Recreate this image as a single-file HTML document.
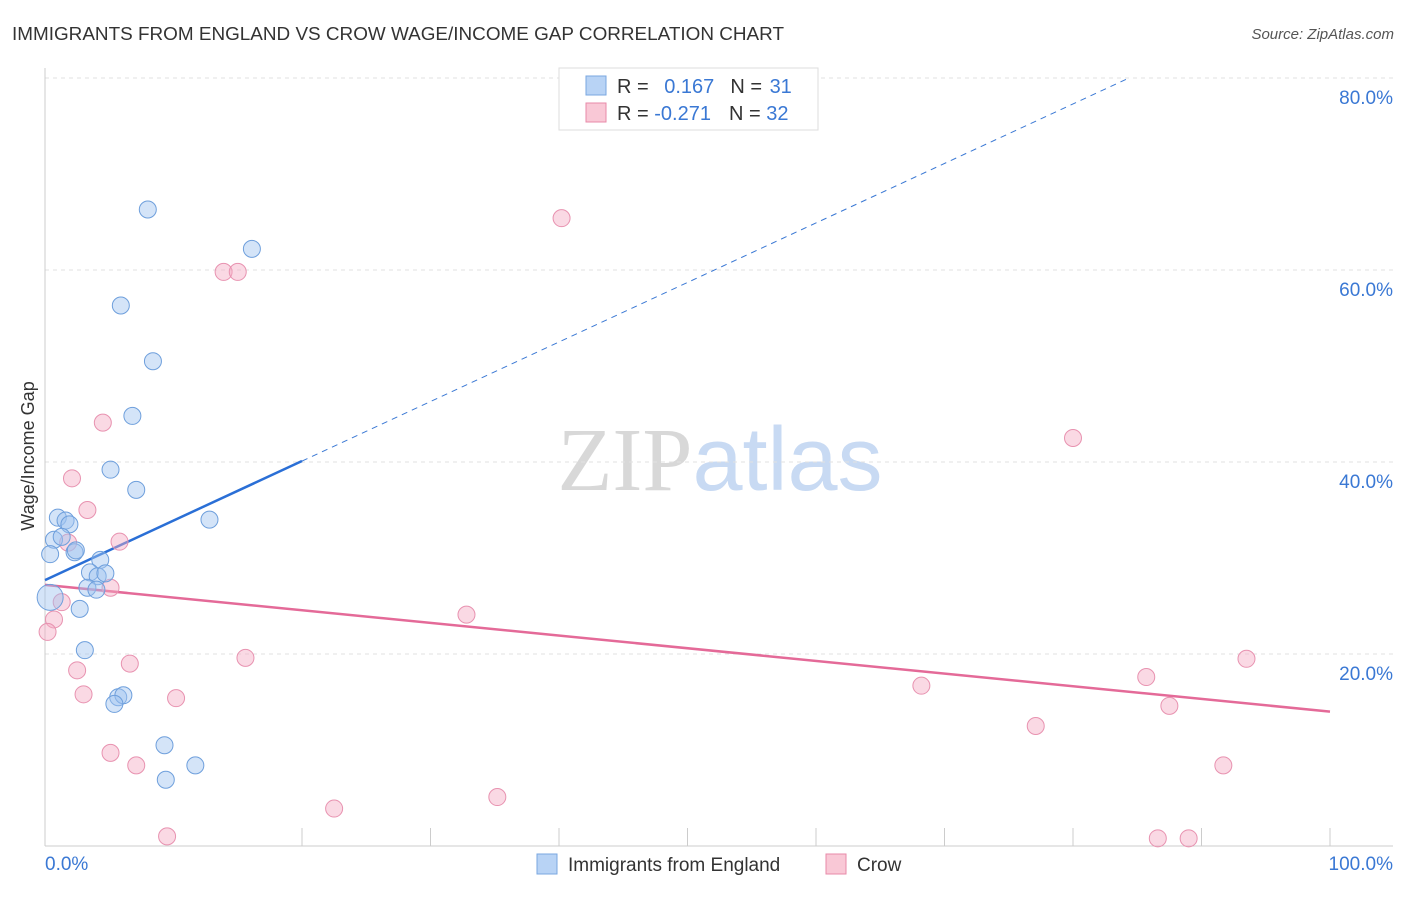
<!DOCTYPE html>
<html><head><meta charset="utf-8"><style>
body{margin:0;background:#fff;font-family:"Liberation Sans",sans-serif;}
svg text{font-family:"Liberation Sans",sans-serif;}
</style></head><body>
<svg id="chart" width="1406" height="892" xmlns="http://www.w3.org/2000/svg">
<text x="12" y="40" font-size="18" fill="#333" textLength="772" lengthAdjust="spacingAndGlyphs">IMMIGRANTS FROM ENGLAND VS CROW WAGE/INCOME GAP CORRELATION CHART</text>
<text x="1394" y="39" font-size="15" fill="#555" text-anchor="end" font-style="italic">Source: ZipAtlas.com</text>
<text x="720" y="490" font-size="90" text-anchor="middle"><tspan fill="#d8d8d8" font-family="Liberation Serif">ZIP</tspan><tspan fill="#c8daf3">atlas</tspan></text>
<text transform="translate(34,456) rotate(-90)" font-size="18" fill="#333" text-anchor="middle">Wage/Income Gap</text>
<g id="grid"></g><g id="lines"></g><g id="pts"></g>
<g>
<rect x="559" y="68" width="259" height="62" fill="#fff" stroke="#ddd"/>
<rect x="586" y="76" width="20" height="19" fill="#b8d3f5" stroke="#7aa7e0"/>
<rect x="586" y="103" width="20" height="19" fill="#f9c8d6" stroke="#e88aa8"/>
<text x="617" y="93" font-size="20" fill="#333">R = <tspan fill="#3a78d4" dx="10">0.167</tspan><tspan dx="16" fill="#333">N = </tspan><tspan fill="#3a78d4" dx="2">31</tspan></text>
<text x="617" y="120" font-size="20" fill="#333">R = <tspan fill="#3a78d4">-0.271</tspan><tspan dx="18" fill="#333">N = </tspan><tspan fill="#3a78d4">32</tspan></text>
</g>
<g>
<rect x="537" y="854" width="20" height="20" fill="#b8d3f5" stroke="#7aa7e0"/>
<text x="568" y="871" font-size="19" fill="#333">Immigrants from England</text>
<rect x="826" y="854" width="20" height="20" fill="#f9c8d6" stroke="#e88aa8"/>
<text x="857" y="871" font-size="19" fill="#333">Crow</text>
</g>
</svg>
<script>
const yTicks=[20,40,60,80];
const xTickLabels=["0.0%","100.0%"];
const blueX=[8.0,16.1,5.9,8.4,6.8,5.1,7.1,12.8,1.0,1.6,1.9,0.7,1.3,0.4,2.3,2.4,4.3,3.5,4.1,4.7,3.3,4.0,0.4,2.7,3.1,5.7,6.1,5.4,9.3,11.7,9.4];
const blueY=[66.3,62.2,56.3,50.5,44.8,39.2,37.1,34.0,34.2,33.9,33.5,31.9,32.2,30.4,30.6,30.8,29.8,28.5,28.1,28.4,26.9,26.7,25.9,24.7,20.4,15.5,15.7,14.8,10.5,8.4,6.9];
const pinkX=[40.2,13.9,15.0,4.5,80.0,2.1,3.3,5.8,1.8,5.1,1.3,0.7,0.2,32.8,6.6,15.6,2.5,3.0,10.2,68.2,85.7,93.5,87.5,77.1,5.1,7.1,91.7,22.5,35.2,9.5,86.6,89.0];
const pinkY=[65.4,59.8,59.8,44.1,42.5,38.3,35.0,31.7,31.6,26.9,25.4,23.6,22.3,24.1,19.0,19.6,18.3,15.8,15.4,16.7,17.6,19.5,14.6,12.5,9.7,8.4,8.4,3.9,5.1,1.0,0.8,0.8];
const blueTrend=[27.7,0.62];
const pinkTrend=[27.2,-0.132];
const NS="http://www.w3.org/2000/svg";
const sx=v=>45+v*12.85, sy=v=>846-v*9.6;
function mk(p,t,a){const e=document.createElementNS(NS,t);for(const k in a)e.setAttribute(k,a[k]);p.appendChild(e);return e;}
const g=document.getElementById('grid');
yTicks.forEach(t=>{
 const l=mk(g,'line',{x1:45,x2:1393,y1:sy(t),y2:sy(t),stroke:'#e2e2e2','stroke-dasharray':'4,4'});
 
 
 const tx=mk(g,'text',{x:1393,y:sy(t)+26,'font-size':19,fill:'#3a78d4','text-anchor':'end'});tx.textContent=t.toFixed(1)+'%';
 
 
});
mk(g,'line',{x1:45,x2:45,y1:68,y2:846,stroke:'#ccc'});
const ax=mk(g,'line',{x1:45,x2:1393,y1:846,y2:846,stroke:'#ccc'});


for(let i=2;i<=10;i++){mk(g,'line',{x1:sx(i*10),x2:sx(i*10),y1:828,y2:846,stroke:'#ccc'});}
const t0=mk(g,'text',{x:45,y:870,'font-size':19,fill:'#3a78d4'});t0.textContent=xTickLabels[0];


const t1=mk(g,'text',{x:1393,y:870,'font-size':19,fill:'#3a78d4','text-anchor':'end'});t1.textContent=xTickLabels[1];


const L=document.getElementById('lines');
const bt=x=>blueTrend[0]+blueTrend[1]*x, pt=x=>pinkTrend[0]+pinkTrend[1]*x;
const bxEnd=(80-blueTrend[0])/blueTrend[1];
const bd=mk(L,'line',{x1:sx(20),y1:sy(bt(20)),x2:sx(bxEnd),y2:sy(80),stroke:'#3a78d4','stroke-width':1,'stroke-dasharray':'6,5'});


const bl=mk(L,'line',{x1:sx(0),y1:sy(bt(0)),x2:sx(20),y2:sy(bt(20)),stroke:'#2a6fd6','stroke-width':2.5});


const pl=mk(L,'line',{x1:sx(0),y1:sy(pt(0)),x2:sx(100),y2:sy(pt(100)),stroke:'#e46a98','stroke-width':2.5});


const P=document.getElementById('pts');
pinkX.forEach((x,i)=>{const c=mk(P,'circle',{cx:sx(x),cy:sy(pinkY[i]),r:8.5,fill:'rgba(244,170,195,0.45)',stroke:'#e892b0'});
 
 });
blueX.forEach((x,i)=>{const c=mk(P,'circle',{cx:sx(x),cy:sy(blueY[i]),r:i==22?13:8.5,fill:'rgba(160,195,240,0.45)',stroke:'#6e9fdc'});
 
 });
</script>
</body></html>
